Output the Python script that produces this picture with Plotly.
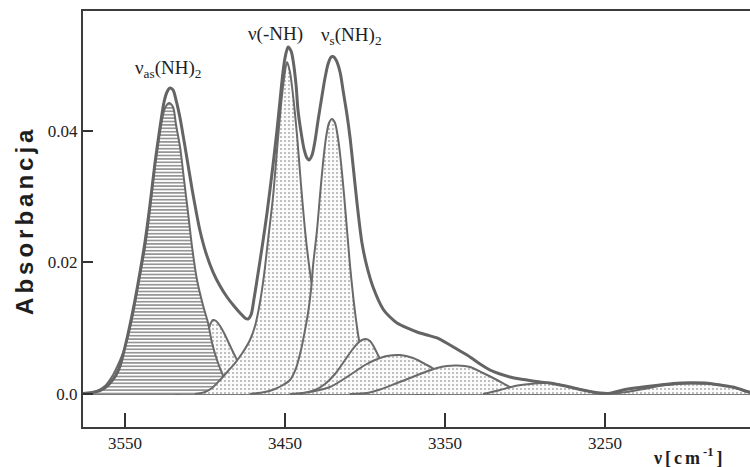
import plotly.graph_objects as go

# ---- axis ticks ----
x_tickvals = [3550, 3450, 3350, 3250]
x_ticktext = ["3550", "3450", "3350", "3250"]
y_tickvals = [0.0, 0.02, 0.04]
y_ticktext = ["0.0", "0.02", "0.04"]

# ---- measured envelope (spectrum) ----
env_wn = [3584.4, 3576.25, 3570.6, 3565.6, 3561.9, 3558.75, 3555.6, 3553.1, 3550.0, 3546.9,
          3543.75, 3540.6, 3537.5, 3534.4, 3531.25, 3528.1, 3525.6, 3523.75, 3521.9, 3520.0,
          3518.1, 3515.6, 3513.1, 3510.6, 3508.1, 3505.6, 3503.1, 3499.4, 3495.0, 3490.6,
          3486.25, 3481.9, 3478.1, 3475.0, 3473.1, 3471.25, 3469.4, 3467.5, 3464.4, 3461.25,
          3457.5, 3455.0, 3453.1, 3451.25, 3450.0, 3448.1, 3446.25, 3445.0, 3443.1, 3441.9,
          3440.0, 3438.1, 3436.25, 3435.0, 3433.1, 3431.25, 3429.4, 3426.9, 3425.0, 3423.1,
          3421.25, 3420.0, 3418.1, 3415.6, 3413.75, 3411.25, 3409.4, 3407.5, 3405.0, 3401.9,
          3398.75, 3395.0, 3388.75, 3384.4, 3380.0, 3373.75, 3367.5, 3361.25, 3355.0, 3346.9,
          3340.6, 3334.4, 3328.1, 3321.9, 3315.6, 3309.4, 3303.1, 3296.9, 3290.6, 3284.4,
          3278.1, 3271.9, 3265.6, 3259.4, 3253.1, 3248.1, 3243.75, 3238.75, 3231.25, 3223.75,
          3215.6, 3207.5, 3196.9, 3187.5, 3182.5, 3176.25, 3170.0, 3165.0, 3161.25, 3156.25,
          3150.0]
env_A = [0.00003, 0.00008, 0.00023, 0.00053, 0.00106, 0.00183, 0.00289, 0.00426, 0.00715, 0.01049,
         0.0143, 0.01855, 0.02312, 0.02874, 0.03513, 0.04061, 0.04441, 0.04593, 0.04654, 0.04624,
         0.04471, 0.04198, 0.03848, 0.03483, 0.03118, 0.02783, 0.02479, 0.02144, 0.01855, 0.01643,
         0.01475, 0.01338, 0.01232, 0.01156, 0.01141, 0.01202, 0.01445, 0.01734, 0.0222, 0.02753,
         0.03483, 0.04015, 0.04471, 0.04897, 0.0511, 0.05278, 0.05217, 0.0508, 0.047, 0.04319,
         0.03985, 0.03726, 0.03589, 0.03559, 0.03635, 0.03848, 0.04152, 0.04532, 0.04806, 0.05019,
         0.05125, 0.05133, 0.0508, 0.04897, 0.04624, 0.04243, 0.03909, 0.03483, 0.02905, 0.02297,
         0.01932, 0.01627, 0.01293, 0.01171, 0.0108, 0.01004, 0.00943, 0.00897, 0.00852, 0.00745,
         0.00654, 0.00563, 0.00456, 0.00365, 0.00304, 0.00259, 0.00228, 0.00205, 0.00183, 0.00167,
         0.00137, 0.00106, 0.00068, 0.00038, 0.00015, 0.00008, 0.0003, 0.00061, 0.00091, 0.00114,
         0.00137, 0.0016, 0.00172, 0.00167, 0.00152, 0.00129, 0.00106, 0.00068, 0.00038, 0.00015,
         0.0]

# ---- fitted component bands ----
nu_as_wn = [3573.1, 3567.5, 3562.5, 3557.5, 3554.4, 3550.0, 3545.0, 3541.9, 3540.0, 3537.5,
            3535.6, 3533.8, 3531.3, 3529.4, 3526.9, 3525.0, 3522.5, 3520.0, 3518.1, 3515.6,
            3513.1, 3510.6, 3508.1, 3505.0, 3501.3, 3498.1, 3495.6, 3492.5, 3489.4, 3486.3,
            3483.1, 3480.0, 3475.0]
nu_as_A = [0, 0.00046, 0.00122, 0.00289, 0.00441, 0.00715, 0.01217, 0.01643, 0.01886, 0.02236,
           0.0257, 0.02951, 0.03483, 0.03787, 0.04167, 0.0435, 0.04426, 0.04365, 0.04091, 0.03757,
           0.03255, 0.02753, 0.02236, 0.01734, 0.01354, 0.0108, 0.00776, 0.00517, 0.00319, 0.00167,
           0.00076, 0.0003, 0]

b3495_wn = [3518.75, 3512.5, 3506.25, 3502.5, 3500.0, 3498.1, 3496.9, 3495.0, 3493.1, 3490.6,
            3488.1, 3486.3, 3483.1, 3480.0, 3476.25, 3471.9, 3466.9, 3460.6, 3453.1]
b3495_A = [0, 0.0003, 0.00213, 0.00487, 0.00776, 0.00943, 0.01049, 0.01125, 0.0111, 0.01034,
           0.00928, 0.00836, 0.00669, 0.00517, 0.00335, 0.00183, 0.00076, 0.00015, 0]

nu_nh_wn = [3506.25, 3500.0, 3495.6, 3490.6, 3485.6, 3481.25, 3476.25, 3471.9, 3468.75, 3465.6,
            3463.1, 3460.6, 3457.5, 3455.0, 3452.5, 3450.6, 3448.75, 3446.9, 3445.0, 3442.5,
            3440.0, 3437.5, 3435.0, 3432.5, 3429.4, 3425.6, 3420.6, 3412.5, 3400.0, 3381.25,
            3359.4]
nu_nh_A = [0, 0.0003, 0.00091, 0.00213, 0.0035, 0.00471, 0.00639, 0.00821, 0.01034, 0.01399,
           0.0181, 0.02342, 0.02996, 0.03711, 0.04395, 0.04806, 0.05049, 0.04897, 0.04547, 0.03939,
           0.03179, 0.02494, 0.01962, 0.01551, 0.01156, 0.00821, 0.00548, 0.00304, 0.00137, 0.00046,
           0]

nu_s_wn = [3471.9, 3462.5, 3456.25, 3451.25, 3446.9, 3443.1, 3440.0, 3437.5, 3435.6, 3433.75,
           3432.5, 3430.0, 3428.1, 3426.25, 3424.4, 3422.5, 3420.6, 3418.75, 3416.9, 3415.0,
           3413.1, 3411.25, 3409.4, 3407.5, 3405.6, 3403.75, 3401.25, 3398.1, 3393.75, 3387.5,
           3378.1, 3365.6]
nu_s_A = [0, 0.0003, 0.00076, 0.00137, 0.00213, 0.00395, 0.00669, 0.00973, 0.01232, 0.01582,
          0.01947, 0.02494, 0.03027, 0.03513, 0.03894, 0.04122, 0.04182, 0.04122, 0.03894, 0.03513,
          0.03027, 0.02494, 0.01962, 0.01506, 0.01125, 0.00821, 0.00593, 0.00395, 0.00228, 0.00106,
          0.0003, 0]

b3400_wn = [3440.6, 3431.25, 3425.0, 3418.75, 3412.5, 3408.1, 3404.4, 3401.9, 3399.4, 3396.9,
            3394.4, 3391.9, 3389.4, 3385.6, 3381.25, 3375.0, 3365.6, 3356.25]
b3400_A = [0, 0.00061, 0.00152, 0.00304, 0.00517, 0.00669, 0.00776, 0.00821, 0.00837, 0.00806,
           0.00715, 0.00593, 0.00487, 0.00335, 0.00198, 0.00091, 0.00015, 0]

b3378_wn = [3446.9, 3434.4, 3421.9, 3409.4, 3400.0, 3393.75, 3386.25, 3378.1, 3370.0, 3361.25,
            3355.0, 3346.9, 3340.6, 3334.4, 3325.0, 3315.6]
b3378_A = [0, 0.0003, 0.00106, 0.00289, 0.00441, 0.00517, 0.00578, 0.00593, 0.00548, 0.00441,
           0.0035, 0.00228, 0.00137, 0.00068, 0.00015, 0]

b3342_wn = [3409.4, 3398.75, 3390.6, 3380.0, 3371.9, 3365.6, 3355.0, 3348.75, 3342.5, 3334.4,
            3326.25, 3317.5, 3309.4, 3301.25, 3292.5]
b3342_A = [0, 0.00015, 0.00068, 0.00167, 0.00243, 0.00304, 0.00395, 0.00426, 0.00433, 0.00411,
           0.00319, 0.00213, 0.00106, 0.00038, 0]

b3289_wn = [3326.25, 3315.6, 3306.25, 3296.9, 3288.75, 3280.6, 3271.9, 3263.75, 3255.0, 3246.9]
b3289_A = [0, 0.00061, 0.00122, 0.00152, 0.00167, 0.00152, 0.00106, 0.00061, 0.00015, 0]

b3197_wn = [3253.1, 3243.75, 3236.25, 3225.0, 3215.6, 3206.25, 3196.9, 3187.5, 3178.1, 3168.75,
            3162.5, 3156.25, 3150.0]
b3197_A = [0, 0.00012, 0.0003, 0.0008, 0.00125, 0.00148, 0.0016, 0.00155, 0.0014, 0.00095,
           0.00045, 0.0001, 0]

LINE = "#6a6a6a"
dots = dict(shape=".", size=4, solidity=0.18, fgcolor="#a8a8a8", bgcolor="#fbfbfb", fillmode="replace")
hatch = dict(shape="-", size=3.4, solidity=0.45, fgcolor="#8a8a8a", bgcolor="#ffffff", fillmode="replace")

fig = go.Figure()

def band(wn, a, pattern):
    fig.add_trace(go.Scatter(x=wn, y=a, mode="lines", line=dict(color=LINE, width=2, shape="spline", smoothing=0.8),
                             fill="tozeroy", fillpattern=pattern, fillcolor="white", hoverinfo="skip", showlegend=False))

band(b3495_wn, b3495_A, dots)
band(nu_as_wn, nu_as_A, hatch)
band(nu_nh_wn, nu_nh_A, dots)
band(nu_s_wn, nu_s_A, dots)
band(b3400_wn, b3400_A, dots)
band(b3378_wn, b3378_A, dots)
band(b3342_wn, b3342_A, dots)
band(b3289_wn, b3289_A, dots)
band(b3197_wn, b3197_A, dots)

fig.add_trace(go.Scatter(x=env_wn, y=env_A, mode="lines",
                         line=dict(color="#646464", width=3, shape="spline", smoothing=0.8),
                         hoverinfo="skip", showlegend=False))

serif = "Liberation Serif"
fig.update_layout(
    width=750, height=467,
    margin=dict(l=83, r=0, t=11, b=40),
    paper_bgcolor="white", plot_bgcolor="white",
    showlegend=False,
    xaxis=dict(range=[3576.25, 3159.4], tickvals=x_tickvals, ticktext=x_ticktext,
               ticks="inside", ticklen=14, tickwidth=2, tickcolor="#333",
               showline=True, linecolor="#3c3c3c", linewidth=2, mirror=True,
               showgrid=False, zeroline=False, layer="above traces",
               tickfont=dict(family=serif, size=17, color="#222")),
    yaxis=dict(range=[-0.00502, 0.05825], tickvals=y_tickvals, ticktext=y_ticktext,
               ticks="inside", ticklen=10, tickwidth=2, tickcolor="#333",
               showline=True, linecolor="#3c3c3c", linewidth=2,
               showgrid=False, zeroline=True, zerolinecolor="#7a7a7a", zerolinewidth=2.5,
               layer="above traces",
               tickfont=dict(family=serif, size=17, color="#222")),
)

sp = "\u2006"
fig.add_annotation(xref="paper", yref="paper", x=-0.087, y=0.493, xanchor="center", yanchor="middle",
                   text=sp.join("Absorbancja"), textangle=-90, showarrow=False,
                   font=dict(family="Liberation Sans", size=24, color="#1e1e1e", weight="bold"))
fig.add_annotation(xref="paper", yref="paper", x=0.907, y=-0.072, xanchor="center", yanchor="middle",
                   text="ν" + sp + "[" + sp + "c" + sp + "m" + sp + "<sup>-1</sup>" + sp + "]",
                   showarrow=False,
                   font=dict(family=serif, size=18, color="#1e1e1e", weight="bold"))

lab = dict(family=serif, size=19, color="#222")
fig.add_annotation(x=3523.1, y=0.0494, text="ν<sub>as</sub>(NH)<sub>2</sub>", showarrow=False, font=lab,
                   xanchor="center", yanchor="middle")
fig.add_annotation(x=3456.25, y=0.0548, text="ν(-NH)", showarrow=False, font=lab,
                   xanchor="center", yanchor="middle")
fig.add_annotation(x=3408.75, y=0.0544, text="ν<sub>s</sub>(NH)<sub>2</sub>", showarrow=False, font=lab,
                   xanchor="center", yanchor="middle")

fig.write_html("out.html")
